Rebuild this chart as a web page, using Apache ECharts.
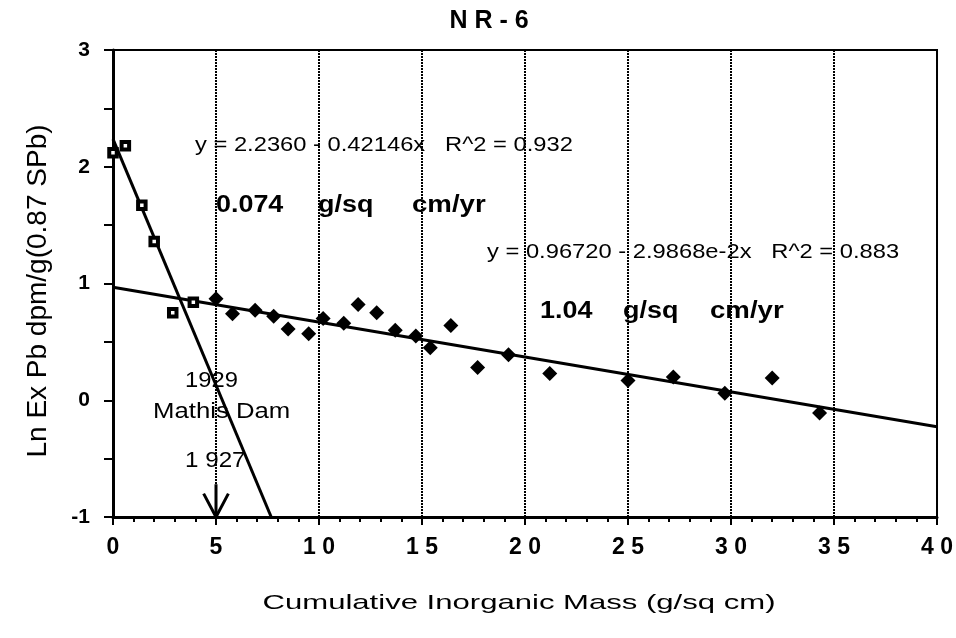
<!DOCTYPE html>
<html>
<head>
<meta charset="utf-8">
<script src="https://cdn.jsdelivr.net/npm/echarts@6/dist/echarts.min.js"></script>
<style>
  html, body { margin: 0; padding: 0; background: #fff; }
  #chart { width: 956px; height: 638px; }
</style>
</head>
<body>
<div id="chart"></div>
<script>
// upper core (squares) and lower core (diamonds), [mass, ln ex Pb]
var squarePts = [[0.0, 2.12], [0.6, 2.18], [1.4, 1.67], [2.0, 1.36], [2.9, 0.75], [3.9, 0.84]];
var diamondPts = [
  [5.0, 0.87], [5.8, 0.74], [6.9, 0.77], [7.8, 0.72], [8.5, 0.61], [9.5, 0.57],
  [10.2, 0.70], [11.2, 0.66], [11.9, 0.82], [12.8, 0.75], [13.7, 0.60], [14.7, 0.55],
  [15.4, 0.45], [16.4, 0.64], [17.7, 0.28], [19.2, 0.39], [21.2, 0.23], [25.0, 0.17],
  [27.2, 0.20], [29.7, 0.06], [32.0, 0.19], [34.3, -0.11]
];
// regression line end points
var fitSteep = [[0, 2.236], [7.68, -1]];
var fitFlat = [[0, 0.9672], [40, -0.2275]];
// arrow at 1927 horizon
var arrowShaft = [[5, -0.72], [5, -1]];
var arrowHead = [[4.4, -0.8], [5, -1], [5.6, -0.8]];

var font = 'Liberation Sans, Arial, Helvetica, sans-serif';
var chart = echarts.init(document.getElementById('chart'));

// stretched text, like the original plot
function txt(x, y, s, bold, size, sx) {
  return {
    type: 'text', x: x, y: y, scaleX: sx || 1, z: 100,
    style: {
      text: s, font: (bold ? 'bold ' : '') + size + 'px ' + font, fill: '#000',
      textAlign: 'left', textVerticalAlign: 'middle', align: 'left', verticalAlign: 'middle'
    }
  };
}

var option = {
  animation: false,
  backgroundColor: '#fff',
  title: {
    text: 'N R - 6', left: 484, top: 4, textAlign: 'center',
    textStyle: { fontFamily: font, fontWeight: 'bold', fontSize: 25, color: '#000' }
  },
  grid: { left: 113, right: 18, top: 50, bottom: 121, show: true, borderColor: '#000', borderWidth: 2, backgroundColor: 'transparent' },
  xAxis: {
    type: 'value', min: 0, max: 40, interval: 5,
    axisLine: { onZero: false, lineStyle: { color: '#000', width: 3 } },
    axisTick: { length: 8, lineStyle: { color: '#000', width: 2 } },
    minorTick: { show: true, splitNumber: 5, length: 5, lineStyle: { color: '#000', width: 2 } },
    axisLabel: { fontFamily: font, fontSize: 23, fontWeight: 'bold', color: '#000', margin: 19,
      formatter: function (v) { return String(v).split('').join(' '); } },
    splitLine: { show: true, lineStyle: { color: '#000', width: 2, type: [2, 1] } }
  },
  yAxis: {
    type: 'value', min: -1, max: 3, interval: 1,
    axisLine: { show: true, onZero: false, lineStyle: { color: '#000', width: 3 } },
    axisTick: { length: 9, lineStyle: { color: '#000', width: 2 } },
    minorTick: { show: true, splitNumber: 2, length: 9, lineStyle: { color: '#000', width: 2 } },
    axisLabel: { fontFamily: font, fontSize: 21, fontWeight: 'bold', color: '#000', margin: 23 },
    splitLine: { show: false }
  },
  series: [
    { type: 'line', data: fitSteep, symbol: 'none', lineStyle: { color: '#000', width: 3 }, z: 3 },
    { type: 'line', data: fitFlat, symbol: 'none', lineStyle: { color: '#000', width: 3 }, z: 3 },
    { type: 'line', data: arrowShaft, symbol: 'none', lineStyle: { color: '#000', width: 3 }, z: 3 },
    { type: 'line', data: arrowHead, symbol: 'none', lineStyle: { color: '#000', width: 3 }, z: 3 },
    { type: 'scatter', data: squarePts, symbol: 'rect', symbolSize: 7.5,
      itemStyle: { color: '#fff', borderColor: '#000', borderWidth: 4, opacity: 1 }, z: 5 },
    { type: 'scatter', data: diamondPts, symbol: 'diamond', symbolSize: 15,
      itemStyle: { color: '#000', opacity: 1 }, z: 5 }
  ],
  graphic: [
    txt(195, 145, 'y = 2.2360 - 0.42146x   R^2 = 0.932', false, 21, 1.13),
    txt(216, 206, '0.074', true, 23, 1.17),
    txt(318, 206, 'g/sq', true, 23, 1.17),
    txt(412, 206, 'cm/yr', true, 23, 1.2),
    txt(487, 252, 'y = 0.96720 - 2.9868e-2x   R^2 = 0.883', false, 21, 1.13),
    txt(540, 312, '1.04', true, 23, 1.17),
    txt(623, 312, 'g/sq', true, 23, 1.17),
    txt(710, 312, 'cm/yr', true, 23, 1.2),
    txt(185, 381, '1929', false, 22, 1.08),
    txt(153, 412, 'Mathis Dam', false, 22, 1.17),
    txt(185, 461, '1 927', false, 22, 1.1),
    {
      type: 'text', x: 519, y: 603, scaleX: 1.48, z: 100,
      style: { text: 'Cumulative Inorganic Mass (g/sq cm)', font: '21px ' + font, fill: '#000',
        textAlign: 'center', textVerticalAlign: 'middle', align: 'center', verticalAlign: 'middle' }
    },
    {
      type: 'text', x: 38, y: 291, rotation: Math.PI / 2, z: 100,
      style: { text: 'Ln Ex Pb dpm/g(0.87 SPb)', font: '28px ' + font, fill: '#000',
        textAlign: 'center', textVerticalAlign: 'middle', align: 'center', verticalAlign: 'middle' }
    }
  ]
};
chart.setOption(option);
</script>
</body>
</html>
